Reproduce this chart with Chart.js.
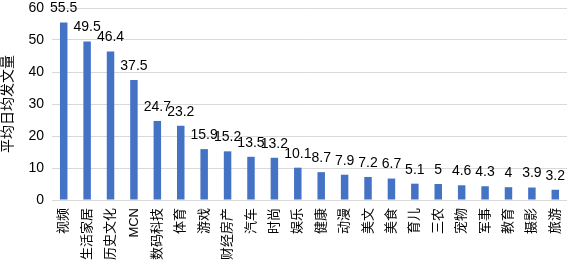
<!DOCTYPE html>
<html><head><meta charset="utf-8">
<script src="https://cdn.jsdelivr.net/npm/chart.js@4"></script>
<style>html,body{margin:0;padding:0;background:#fff}#wrap{width:567px;height:263px}</style>
</head><body><div id="wrap"><canvas id="c"></canvas></div>
<script>
const categories = ['视频','生活家居','历史文化','MCN','数码科技','体育','游戏','财经房产','汽车','时尚','娱乐','健康','动漫','美文','美食','育儿','三农','宠物','军事','教育','摄影','旅游'];
const values = [55.5,49.5,46.4,37.5,24.7,23.2,15.9,15.2,13.5,13.2,10.1,8.7,7.9,7.2,6.7,5.1,5,4.6,4.3,4,3.9,3.2];
const yTicks = [0,10,20,30,40,50,60];
const yTitle = '平均日均发文量';
const FONT = "'Liberation Sans','Noto Sans CJK SC',sans-serif";

const labelPlugin = {
  id:'vlabels',
  afterDatasetsDraw(chart){
    const ctx = chart.ctx;
    const meta = chart.getDatasetMeta(0);
    ctx.save();
    ctx.font = '14px ' + FONT;
    ctx.fillStyle = '#000';
    ctx.textAlign = 'center';
    ctx.textBaseline = 'bottom';
    meta.data.forEach((bar,i)=>{
      ctx.fillText(String(values[i]), bar.x, bar.y - 7);
    });
    ctx.restore();
  }
};

new Chart(document.getElementById('c'),{
  type:'bar',
  data:{labels:categories,datasets:[{data:values,backgroundColor:'#4472C4',barPercentage:0.32,categoryPercentage:1}]},
  options:{
    responsive:true,maintainAspectRatio:false,animation:false,
    layout:{padding:{top:8,right:0,left:0,bottom:0}},
    plugins:{legend:{display:false},tooltip:{enabled:false}},
    scales:{
      x:{grid:{display:false,drawTicks:false},border:{color:'#d9d9d9'},
         afterFit(s){s.height=63;s.paddingLeft=0;s.paddingRight=0;},
         ticks:{font:{size:13,family:FONT},color:'#000',maxRotation:90,minRotation:90,padding:8,autoSkip:false}},
      y:{min:0,max:60,afterBuildTicks(s){s.ticks=yTicks.map(v=>({value:v}));},
         afterFit(s){s.width=52;s.paddingTop=0;s.paddingBottom=0;},
         grid:{color:'#d9d9d9',drawTicks:false},border:{display:false},
         ticks:{font:{size:14,family:FONT},color:'#000',padding:8},
         title:{display:true,text:yTitle,font:{size:14,family:FONT},color:'#000',padding:0}}
    }
  },
  plugins:[labelPlugin]
});
</script></body></html>
